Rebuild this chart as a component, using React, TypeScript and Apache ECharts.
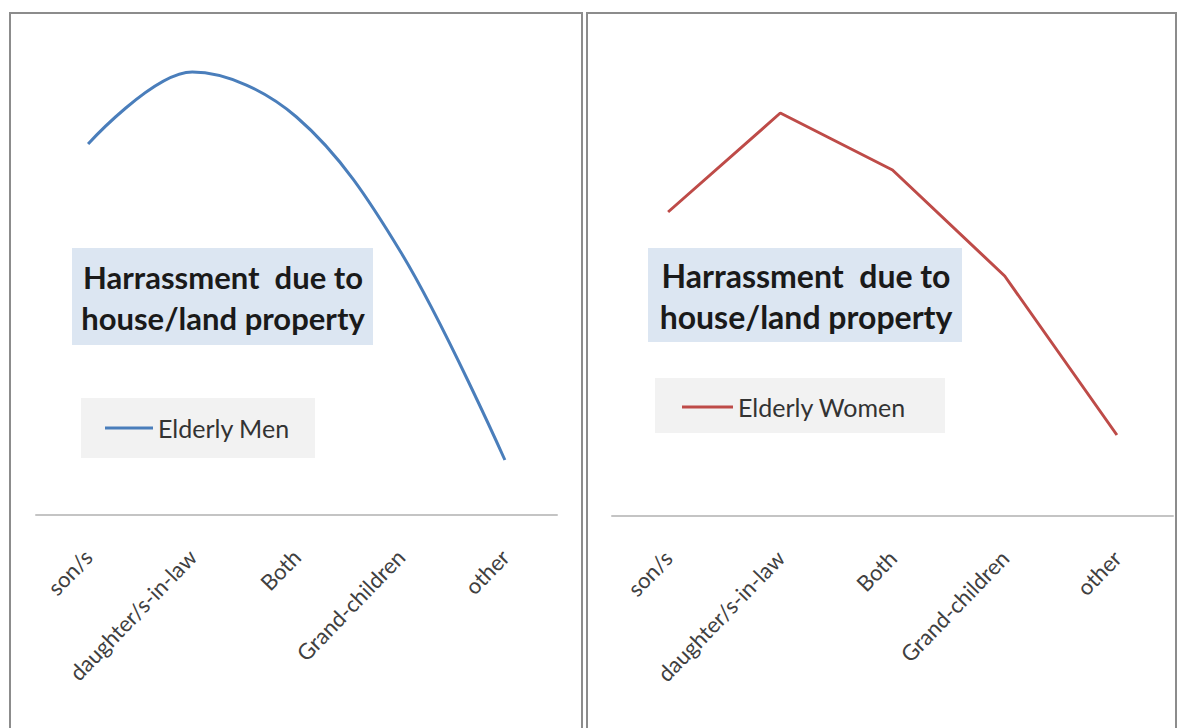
import React, { useEffect, useRef } from "react";
import * as echarts from "echarts";

const categories = ["son/s", "daughter/s-in-law", "Both", "Grand-children", "other"];
const menValues = [37.1, 44.3, 39.8, 26.3, 5.5];
const womenValues = [30.4, 40.3, 34.6, 24.0, 8.1];
const titleText = "Harrassment  due to\nhouse/land property";
const menName = "Elderly Men";
const womenName = "Elderly Women";

const FONT = "Lato, 'Open Sans', sans-serif";

export default function App() {
  const ref = useRef<HTMLDivElement>(null);
  useEffect(() => {
    if (!ref.current) return;
    const chart = echarts.init(ref.current, undefined, { renderer: "svg" });
    const xAxisCommon = {
      type: "category" as const,
      data: categories,
      boundaryGap: true,
      axisLine: { show: true, lineStyle: { color: "#c4c4c4", width: 2 } },
      axisTick: { show: false },
      axisLabel: {
        rotate: 46,
        margin: 38,
        interval: 0,
        color: "#404040",
        fontFamily: FONT,
        fontSize: 22,
      },
      splitLine: { show: false },
    };
    const yAxisCommon = {
      type: "value" as const,
      min: 0,
      max: 50,
      show: false,
    };
    chart.setOption({
      animation: false,
      backgroundColor: "#ffffff",
      grid: [
        { left: 36, top: 15, width: 521, height: 500 },
        { left: 612, top: 16, width: 561, height: 500 },
      ],
      xAxis: [
        { ...xAxisCommon, gridIndex: 0 },
        { ...xAxisCommon, gridIndex: 1 },
      ],
      yAxis: [
        { ...yAxisCommon, gridIndex: 0 },
        { ...yAxisCommon, gridIndex: 1 },
      ],
      legend: [
        {
          data: [menName],
          left: 105,
          top: 415,
          icon: "rect",
          itemWidth: 48,
          itemHeight: 3,
          itemGap: 5,
          padding: 0,
          textStyle: { fontFamily: FONT, fontSize: 25, color: "#333333", lineHeight: 26 },
        },
        {
          data: [womenName],
          left: 682,
          top: 394,
          icon: "rect",
          itemWidth: 51,
          itemHeight: 3,
          itemGap: 5,
          padding: 0,
          textStyle: { fontFamily: FONT, fontSize: 25, color: "#333333", lineHeight: 26 },
        },
      ],
      graphic: [
        {
          type: "rect",
          z: -10,
          shape: { x: 10, y: 13, width: 572, height: 740 },
          style: { fill: "none", stroke: "#8c8c8c", lineWidth: 2 },
        },
        {
          type: "rect",
          z: -10,
          shape: { x: 587, y: 13, width: 589, height: 740 },
          style: { fill: "none", stroke: "#8c8c8c", lineWidth: 2 },
        },
        {
          type: "rect",
          z: -5,
          shape: { x: 72, y: 248, width: 301, height: 97 },
          style: { fill: "#dce6f2" },
        },
        {
          type: "text",
          z: -4,
          x: 223,
          y: 297,
          style: {
            text: titleText,
            fontFamily: FONT,
            fontWeight: "bold",
            fontSize: 31,
            lineHeight: 41,
            fill: "#1a1a1a",
            align: "center",
            verticalAlign: "middle",
          },
        },
        {
          type: "rect",
          z: -5,
          shape: { x: 81, y: 398, width: 234, height: 60 },
          style: { fill: "#f2f2f2" },
        },
        {
          type: "rect",
          z: -5,
          shape: { x: 648, y: 248, width: 314, height: 94 },
          style: { fill: "#dce6f2" },
        },
        {
          type: "text",
          z: -4,
          x: 806,
          y: 296,
          style: {
            text: titleText,
            fontFamily: FONT,
            fontWeight: "bold",
            fontSize: 32,
            lineHeight: 41,
            fill: "#1a1a1a",
            align: "center",
            verticalAlign: "middle",
          },
        },
        {
          type: "rect",
          z: -5,
          shape: { x: 655, y: 378, width: 290, height: 55 },
          style: { fill: "#f2f2f2" },
        },
      ],
      series: [
        {
          name: menName,
          type: "line",
          xAxisIndex: 0,
          yAxisIndex: 0,
          data: menValues,
          smooth: 0.35,
          symbol: "none",
          lineStyle: { color: "#4a7ebb", width: 3 },
          itemStyle: { color: "#4a7ebb" },
        },
        {
          name: womenName,
          type: "line",
          xAxisIndex: 1,
          yAxisIndex: 1,
          data: womenValues,
          smooth: false,
          symbol: "none",
          lineStyle: { color: "#be4b48", width: 3 },
          itemStyle: { color: "#be4b48" },
        },
      ],
    });
    return () => chart.dispose();
  }, []);
  return (
    <div
      ref={ref}
      style={{ position: "fixed", left: 0, top: 0, width: 1178, height: 728 }}
    />
  );
}
